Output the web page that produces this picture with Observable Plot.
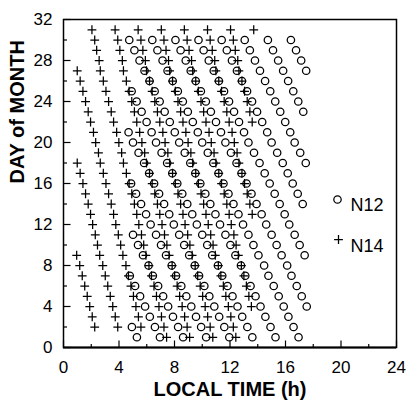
<!DOCTYPE html>
<html><head><meta charset="utf-8">
<script src="https://cdn.jsdelivr.net/npm/d3@7"></script>
<script src="https://cdn.jsdelivr.net/npm/@observablehq/plot@0.6"></script>
<style>
html,body{margin:0;padding:0;background:#fff;}
#chart{width:406px;height:402px;}
</style></head><body><div id="chart"></div>
<script>
const days = d3.range(1, 32);
const seriesNames = ["N12", "N14"];
const xTicks = [0, 4, 8, 12, 16, 20, 24];
const xMinorTicks = [2, 6, 10, 14, 18, 22];
const yTicks = [0, 4, 8, 12, 16, 20, 24, 28, 32];
const yMinorTicks = [2, 6, 10, 14, 18, 22, 26, 30];

// N12 pass times (local hour), one list per day of month (day 1 .. day 31)
const n12Times = [
  [5.29, 6.95, 8.62, 10.28, 11.95, 13.61, 15.28, 16.94],
  [4.93, 6.59, 8.26, 9.92, 11.59, 13.25, 14.92, 16.58],
  [6.22, 7.89, 9.55, 11.22, 12.88, 14.55, 16.21],
  [5.88, 7.54, 9.21, 10.87, 12.54, 14.20, 15.87, 17.53],
  [5.52, 7.18, 8.85, 10.51, 12.18, 13.84, 15.51, 17.17],
  [5.16, 6.82, 8.49, 10.15, 11.82, 13.48, 15.15, 16.81],
  [4.78, 6.44, 8.11, 9.77, 11.44, 13.10, 14.77, 16.43],
  [6.13, 7.80, 9.46, 11.13, 12.79, 14.46, 16.12],
  [5.73, 7.39, 9.06, 10.72, 12.39, 14.05, 15.72, 17.38],
  [5.37, 7.03, 8.70, 10.36, 12.03, 13.69, 15.36, 17.02],
  [5.01, 6.67, 8.34, 10.00, 11.67, 13.33, 15.00, 16.66],
  [6.28, 7.95, 9.61, 11.28, 12.94, 14.61, 16.27],
  [5.95, 7.62, 9.28, 10.95, 12.61, 14.28, 15.94],
  [5.59, 7.25, 8.92, 10.58, 12.25, 13.91, 15.58, 17.24],
  [5.23, 6.89, 8.56, 10.22, 11.89, 13.55, 15.22, 16.88],
  [4.87, 6.53, 8.20, 9.86, 11.53, 13.19, 14.86, 16.52],
  [6.17, 7.84, 9.50, 11.17, 12.83, 14.50, 16.16],
  [5.81, 7.47, 9.14, 10.80, 12.47, 14.13, 15.80, 17.46],
  [5.41, 7.07, 8.74, 10.40, 12.07, 13.73, 15.40, 17.06],
  [5.01, 6.67, 8.34, 10.00, 11.67, 13.33, 15.00, 16.66],
  [4.69, 6.35, 8.02, 9.68, 11.35, 13.01, 14.68, 16.34],
  [5.99, 7.66, 9.32, 10.99, 12.65, 14.32, 15.98],
  [5.63, 7.29, 8.96, 10.62, 12.29, 13.95, 15.62, 17.28],
  [5.27, 6.93, 8.60, 10.26, 11.93, 13.59, 15.26, 16.92],
  [4.91, 6.57, 8.24, 9.90, 11.57, 13.23, 14.90, 16.56],
  [6.20, 7.87, 9.53, 11.20, 12.86, 14.53, 16.19],
  [5.84, 7.50, 9.17, 10.83, 12.50, 14.16, 15.83, 17.49],
  [5.48, 7.14, 8.81, 10.47, 12.14, 13.80, 15.47, 17.13],
  [5.11, 6.77, 8.44, 10.10, 11.77, 13.43, 15.10, 16.76],
  [4.74, 6.40, 8.07, 9.73, 11.40, 13.06, 14.73, 16.39],
  []
];

// N14 pass times (local hour), one list per day of month (day 1 .. day 31)
const n14Times = [
  [7.43, 9.09, 10.76, 12.42],
  [2.25, 3.91, 5.58, 7.24, 8.91, 10.57, 12.24],
  [2.07, 3.73, 5.40, 7.06, 8.73, 10.39, 12.06],
  [1.89, 3.55, 5.22, 6.88, 8.55, 10.21, 11.88, 13.54],
  [1.71, 3.37, 5.04, 6.70, 8.37, 10.03, 11.70, 13.36],
  [1.53, 3.19, 4.86, 6.52, 8.19, 9.85, 11.52, 13.18],
  [1.35, 3.01, 4.68, 6.34, 8.01, 9.67, 11.34, 13.00],
  [1.17, 2.83, 4.50, 6.16, 7.83, 9.49, 11.16, 12.82],
  [0.95, 2.61, 4.28, 5.94, 7.61, 9.27, 10.94, 12.60],
  [2.45, 4.12, 5.78, 7.45, 9.11, 10.78, 12.44],
  [2.29, 3.95, 5.62, 7.28, 8.95, 10.61, 12.28],
  [2.10, 3.77, 5.43, 7.10, 8.76, 10.43, 12.09],
  [1.95, 3.61, 5.28, 6.94, 8.61, 10.27, 11.94, 13.60],
  [1.78, 3.44, 5.11, 6.77, 8.44, 10.10, 11.77, 13.43],
  [1.59, 3.25, 4.92, 6.58, 8.25, 9.91, 11.58, 13.24],
  [1.40, 3.06, 4.73, 6.39, 8.06, 9.72, 11.39, 13.05],
  [1.20, 2.87, 4.53, 6.20, 7.86, 9.53, 11.19, 12.86],
  [0.99, 2.65, 4.32, 5.98, 7.65, 9.31, 10.98, 12.64],
  [2.52, 4.19, 5.85, 7.52, 9.18, 10.85, 12.51],
  [2.32, 3.99, 5.65, 7.32, 8.98, 10.65, 12.31],
  [2.16, 3.83, 5.49, 7.16, 8.82, 10.49, 12.15],
  [1.95, 3.61, 5.28, 6.94, 8.61, 10.27, 11.94, 13.60],
  [1.78, 3.44, 5.11, 6.77, 8.44, 10.10, 11.77, 13.43],
  [1.59, 3.25, 4.92, 6.58, 8.25, 9.91, 11.58, 13.24],
  [1.40, 3.06, 4.73, 6.39, 8.06, 9.72, 11.39, 13.05],
  [1.20, 2.87, 4.53, 6.20, 7.86, 9.53, 11.19, 12.86],
  [0.99, 2.65, 4.32, 5.98, 7.65, 9.31, 10.98, 12.64],
  [2.57, 4.24, 5.90, 7.57, 9.23, 10.90, 12.56],
  [2.39, 4.06, 5.72, 7.39, 9.05, 10.72, 12.38],
  [2.25, 3.91, 5.58, 7.24, 8.91, 10.57, 12.24],
  [2.05, 3.72, 5.38, 7.05, 8.71, 10.38, 12.04, 13.71]
];

const n12 = days.flatMap((d, i) => n12Times[i].map(t => ({day: d, time: t})));
const n14 = days.flatMap((d, i) => n14Times[i].map(t => ({day: d, time: t})));

const plusSym = {draw(ctx, size) { const r = Math.sqrt(size / Math.PI);
  ctx.moveTo(-r, 0); ctx.lineTo(r, 0); ctx.moveTo(0, -r); ctx.lineTo(0, r); }};
const tickUp = {draw(ctx, size) { const r = Math.sqrt(size / Math.PI);
  ctx.moveTo(0, 0); ctx.lineTo(0, -r); }};
const tickRight = {draw(ctx, size) { const r = Math.sqrt(size / Math.PI);
  ctx.moveTo(0, 0); ctx.lineTo(r, 0); }};

const FONT = "'Liberation Sans', Arial, Helvetica, sans-serif";

const chart = Plot.plot({
  width: 406, height: 402,
  marginLeft: 63, marginRight: 10, marginTop: 19, marginBottom: 55,
  style: {fontFamily: FONT, background: "#fff", color: "black"},
  x: {domain: [0, 24]},
  y: {domain: [0, 32]},
  marks: [
    Plot.dot(n12, {x: "time", y: "day", r: 3.7, stroke: "black", fill: "none", strokeWidth: 1.25}),
    Plot.dot(n14, {x: "time", y: "day", r: 4.4, symbol: plusSym, stroke: "black", fill: "none", strokeWidth: 1.25}),
    // inward ticks
    Plot.dot(xTicks, {x: d => d, frameAnchor: "bottom", symbol: tickUp, r: 7, stroke: "black", fill: "none", strokeWidth: 1.2}),
    Plot.dot(xMinorTicks, {x: d => d, frameAnchor: "bottom", symbol: tickUp, r: 3.5, stroke: "black", fill: "none", strokeWidth: 1.2}),
    Plot.dot(yTicks, {y: d => d, frameAnchor: "left", symbol: tickRight, r: 7, stroke: "black", fill: "none", strokeWidth: 1.2}),
    Plot.dot(yMinorTicks, {y: d => d, frameAnchor: "left", symbol: tickRight, r: 3.5, stroke: "black", fill: "none", strokeWidth: 1.2}),
    Plot.frame({stroke: "black", strokeWidth: 1.5}),
    Plot.ruleY([0], {stroke: "black", strokeWidth: 2}),
    Plot.axisX(xTicks, {tickSize: 0, tickPadding: 13, fontSize: 17, label: null}),
    Plot.axisY(yTicks, {tickSize: 0, tickPadding: 11, fontSize: 17, label: null}),
    Plot.text(["LOCAL TIME (h)"], {frameAnchor: "bottom", dy: 48, text: d => d, fontSize: 20, fontWeight: "bold"}),
    Plot.text(["DAY of MONTH"], {frameAnchor: "left", dx: -46, rotate: -90, text: d => d, fontSize: 20, fontWeight: "bold"}),
    // legend
    Plot.dot([seriesNames[0]], {frameAnchor: "top-left", dx: 274, dy: 180, r: 3.7, stroke: "black", fill: "none", strokeWidth: 1.25}),
    Plot.text([seriesNames[0]], {frameAnchor: "top-left", dx: 287, dy: 179, text: d => d, textAnchor: "start", fontSize: 18}),
    Plot.dot([seriesNames[1]], {frameAnchor: "top-left", dx: 275, dy: 220, r: 4.4, symbol: plusSym, stroke: "black", fill: "none", strokeWidth: 1.25}),
    Plot.text([seriesNames[1]], {frameAnchor: "top-left", dx: 287, dy: 220, text: d => d, textAnchor: "start", fontSize: 18})
  ]
});
document.getElementById("chart").appendChild(chart);
</script></body></html>
